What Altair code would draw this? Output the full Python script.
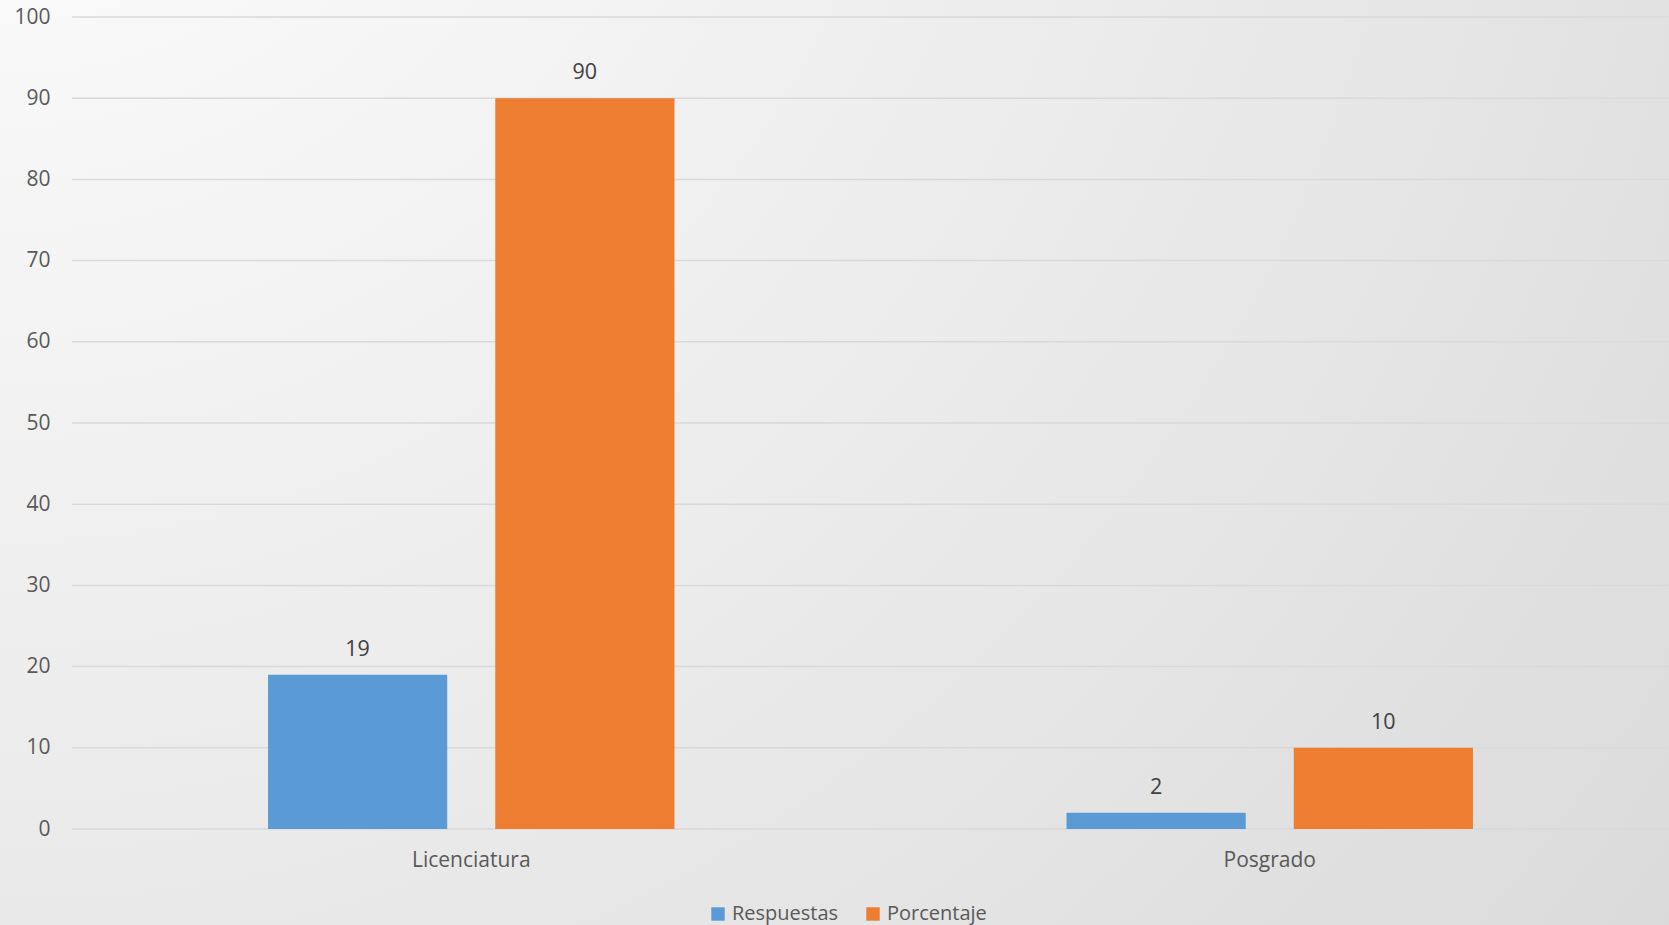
import altair as alt
import pandas as pd

# Survey results by education level
niveles = ["Licenciatura", "Posgrado"]
series = ["Respuestas", "Porcentaje"]
respuestas = [19, 2]
porcentaje = [90, 10]
y_ticks = [0, 10, 20, 30, 40, 50, 60, 70, 80, 90, 100]
colores = ["#5B9BD5", "#ED7D31"]

rows = []
for i, nivel in enumerate(niveles):
    rows.append({"nivel": nivel, "serie": series[0], "valor": respuestas[i]})
    rows.append({"nivel": nivel, "serie": series[1], "valor": porcentaje[i]})
df = pd.DataFrame(rows)
grid_df = pd.DataFrame({"v": y_ticks})

FONT = "Open Sans"
W, H = 1597, 812
PAD_L, PAD_T, PAD_B = 72, 17, 96

x_enc = alt.X(
    "nivel:N",
    sort=niveles,
    title=None,
    scale=alt.Scale(paddingInner=0.491, paddingOuter=0.2455),
    axis=alt.Axis(
        labelAngle=0, labelFontSize=21, labelColor="#595959", labelFont=FONT,
        labelPadding=20, ticks=False, domain=False, grid=False, zindex=1,
    ),
)
y_scale = alt.Scale(domain=[0, 100], nice=False)
xo_enc = alt.XOffset("serie:N", sort=series, scale=alt.Scale(paddingInner=0.2115, paddingOuter=0))

# full-canvas gradient background
fondo = alt.Chart(pd.DataFrame({"k": [0]})).mark_rect(
    color=alt.Gradient(
        gradient="radial",
        x1=0, y1=0, r1=0,
        x2=0, y2=0, r2=1.42,
        stops=[
            alt.GradientStop(offset=0, color="#ffffff"),
            alt.GradientStop(offset=0.5, color="#ebebeb"),
            alt.GradientStop(offset=1, color="#d6d6d6"),
        ],
    )
).encode(
    x=alt.value(-PAD_L), x2=alt.value(W),
    y=alt.value(-PAD_T), y2=alt.value(H + PAD_B),
)

grid = alt.Chart(grid_df).mark_rule(color="#d9d9d9", strokeWidth=1.5).encode(
    y=alt.Y("v:Q", scale=y_scale, title=None,
            axis=alt.Axis(values=y_ticks, labelFontSize=21, labelColor="#595959",
                          labelFont=FONT, labelPadding=22, ticks=False,
                          domain=False, grid=False, zindex=1)),
    x=alt.value(0), x2=alt.value(W),
)

barras = alt.Chart(df).mark_bar().encode(
    x=x_enc,
    xOffset=xo_enc,
    y=alt.Y("valor:Q", scale=y_scale),
    color=alt.Color(
        "serie:N", sort=series,
        scale=alt.Scale(domain=series, range=colores),
        legend=alt.Legend(
            title=None, orient="none", direction="horizontal",
            legendX=636, legendY=887,
            symbolType="square", symbolSize=180, symbolStrokeWidth=0,
            labelFontSize=20, labelColor="#595959", labelFont=FONT,
            columnPadding=24, symbolOffset=0, labelOffset=4,
        ),
    ),
)

etiquetas = alt.Chart(df).mark_text(
    fontSize=21.5, color="#404040", font=FONT, baseline="middle", dy=-25
).encode(
    x=x_enc,
    xOffset=xo_enc,
    y=alt.Y("valor:Q", scale=y_scale),
    text=alt.Text("valor:Q"),
)

chart = alt.layer(fondo, grid, barras, etiquetas).properties(
    width=W, height=H,
    padding={"left": PAD_L, "top": PAD_T, "right": 0, "bottom": PAD_B},
    autosize=alt.AutoSizeParams(type="none"),
).configure_view(stroke=None).configure(background="#ffffff")

chart.save("out.html", embed_options={"renderer": "svg", "actions": False})
